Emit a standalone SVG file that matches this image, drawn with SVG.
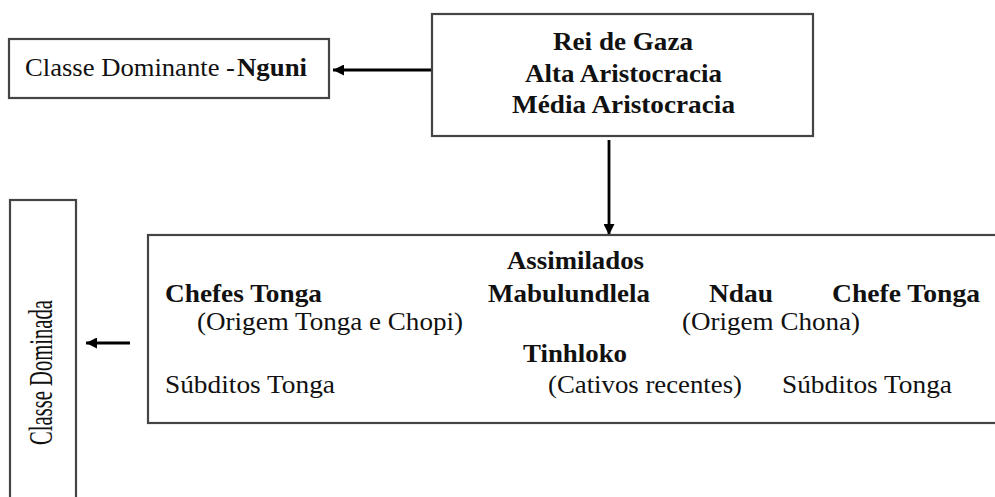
<svg xmlns="http://www.w3.org/2000/svg" width="995" height="497" viewBox="0 0 995 497">
<defs>
<style>
.box{fill:#fff;stroke:#444;stroke-width:2.2}
.t{font-family:"Liberation Serif","Times New Roman",serif;font-size:26px;fill:#111}
.b{font-weight:bold}
.c{stroke:#000;stroke-width:2.8;fill:none}
</style>
<marker id="ah" viewBox="0 0 10 10" refX="10" refY="5" markerWidth="12" markerHeight="11" markerUnits="userSpaceOnUse" orient="auto">
<path d="M0,0 L10,5 L0,10 Z" fill="#000"/>
</marker>
</defs>
<rect width="995" height="497" fill="#fff"/>
<g id="connectors">
<line class="c" x1="432" y1="70" x2="333" y2="70" marker-end="url(#ah)"/>
<line class="c" x1="609" y1="140" x2="609" y2="235" marker-end="url(#ah)"/>
<line class="c" x1="130" y1="343" x2="86" y2="343" marker-end="url(#ah)"/>
</g>
<g id="classe-dominante">
<rect class="box" x="9" y="39" width="320" height="59"/>
<text class="t" x="25" y="76" textLength="210" lengthAdjust="spacingAndGlyphs">Classe Dominante -</text>
<text class="t b" x="237" y="76" textLength="70" lengthAdjust="spacingAndGlyphs">Nguni</text>
</g>
<g id="rei-de-gaza">
<rect class="box" x="432" y="14" width="381" height="122"/>
<text class="t b" x="553" y="50" textLength="140" lengthAdjust="spacingAndGlyphs">Rei de Gaza</text>
<text class="t b" x="525" y="81.5" textLength="197" lengthAdjust="spacingAndGlyphs">Alta Aristocracia</text>
<text class="t b" x="512" y="113" textLength="223" lengthAdjust="spacingAndGlyphs">Média Aristocracia</text>
</g>
<g id="classe-dominada">
<rect class="box" x="10" y="200" width="66" height="310"/>
<text class="t" transform="translate(52,445) rotate(-90)" x="0" y="0" style="font-size:34px" textLength="145" lengthAdjust="spacingAndGlyphs">Classe Dominada</text>
</g>
<g id="classe-dominada-detalhe">
<rect class="box" x="148" y="235" width="860" height="188"/>
<text class="t b" x="507" y="269" textLength="137" lengthAdjust="spacingAndGlyphs">Assimilados</text>
<text class="t b" x="165" y="302" textLength="157" lengthAdjust="spacingAndGlyphs">Chefes Tonga</text>
<text class="t b" x="488" y="302" textLength="162" lengthAdjust="spacingAndGlyphs">Mabulundlela</text>
<text class="t b" x="709" y="302" textLength="64" lengthAdjust="spacingAndGlyphs">Ndau</text>
<text class="t b" x="832" y="302" textLength="148" lengthAdjust="spacingAndGlyphs">Chefe Tonga</text>
<text class="t" x="197" y="330" textLength="266" lengthAdjust="spacingAndGlyphs">(Origem Tonga e Chopi)</text>
<text class="t" x="682" y="330" textLength="178" lengthAdjust="spacingAndGlyphs">(Origem Chona)</text>
<text class="t b" x="523" y="362" textLength="104" lengthAdjust="spacingAndGlyphs">Tinhloko</text>
<text class="t" x="165" y="393" textLength="170" lengthAdjust="spacingAndGlyphs">Súbditos Tonga</text>
<text class="t" x="548" y="393" textLength="194" lengthAdjust="spacingAndGlyphs">(Cativos recentes)</text>
<text class="t" x="782" y="393" textLength="170" lengthAdjust="spacingAndGlyphs">Súbditos Tonga</text>
</g>
</svg>
